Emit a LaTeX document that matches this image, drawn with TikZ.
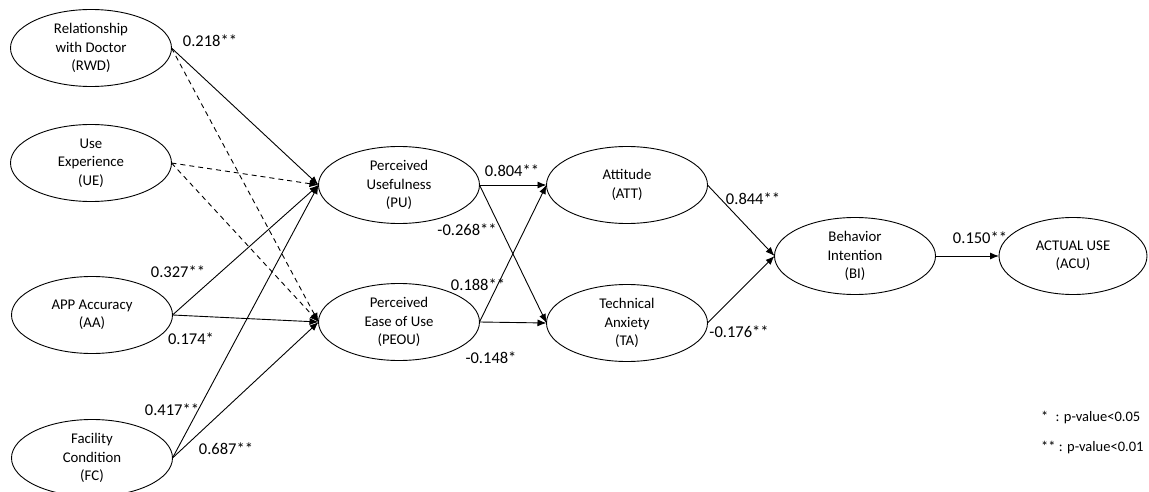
\documentclass[tikz,border=0pt]{standalone}
\usepackage{fontspec}
\setmainfont{Carlito}
\usetikzlibrary{shapes.geometric,arrows.meta}
\tikzset{
  latent/.style={draw, ellipse, line width=0.9pt, minimum width=161pt, minimum height=77pt, inner sep=0pt, outer sep=0pt, align=center, font=\fontsize{14.8}{18.3}\selectfont},
  path/.style={line width=0.9pt, -{Latex[length=9pt,width=7pt]}},
  nspath/.style={path, dashed, dash pattern=on 5pt off 4pt},
  coef/.style={font=\fontsize{16.5}{18}\selectfont, inner sep=0pt},
  legend/.style={font=\fontsize{14.5}{16}\selectfont, inner sep=0pt, anchor=west}
}
\begin{document}
\begin{tikzpicture}[x=1pt,y=-1pt]
\useasboundingbox (0,0) rectangle (1149,492);
\node[latent] (RWD) at (91,48) {Relationship\\with Doctor\\(RWD)};
\node[latent] (UE) at (91,163) {Use\\Experience\\(UE)};
\node[latent] (AA) at (92,315) {APP Accuracy\\(AA)};
\node[latent] (FC) at (92,458) {Facility\\Condition\\(FC)};
\node[latent] (PU) at (399,185) {Perceived\\Usefulness\\(PU)};
\node[latent] (PEOU) at (399,322) {Perceived\\Ease of Use\\(PEOU)};
\node[latent] (ATT) at (627,185) {Attitude\\(ATT)};
\node[latent] (TA) at (627,323) {Technical\\Anxiety\\(TA)};
\node[latent] (BI) at (855,256) {Behavior\\Intention\\(BI)};
\node[latent, minimum width=148pt] (ACU) at (1073,256) {ACTUAL USE\\(ACU)};

\draw[path] (RWD.east) -- (PU.west);
\draw[nspath] (RWD.east) -- (PEOU.west);
\draw[nspath] (UE.east) -- (PU.west);
\draw[nspath] (UE.east) -- (PEOU.west);
\draw[path] (AA.east) -- (PU.west);
\draw[path] (AA.east) -- (PEOU.west);
\draw[path] (FC.east) -- (PU.west);
\draw[path] (FC.east) -- (PEOU.west);
\draw[path] (PU.east) -- (ATT.west);
\draw[path] (PU.east) -- (TA.west);
\draw[path] (PEOU.east) -- (ATT.west);
\draw[path] (PEOU.east) -- (TA.west);
\draw[path] (ATT.east) -- (BI.west);
\draw[path] (TA.east) -- (BI.west);
\draw[path] (BI.east) -- (ACU.west);

\node[coef] (c1) at (210,41) {0.218**};
\node[coef] (c2) at (178,272) {0.327**};
\node[coef] (c3) at (191,339) {0.174*};
\node[coef] (c4) at (172,410) {0.417**};
\node[coef] (c5) at (226,449) {0.687**};
\node[coef] (c6) at (512,171) {0.804**};
\node[coef] (c7) at (467,230) {-0.268**};
\node[coef] (c8) at (478,285) {0.188**};
\node[coef] (c9) at (491,358) {-0.148*};
\node[coef] (c10) at (753,199) {0.844**};
\node[coef] (c11) at (739,332) {-0.176**};
\node[coef] (c12) at (980,238) {0.150**};

\node[legend] (l1) at (1041,418) {*\enspace: p-value<0.05};
\node[legend] (l2) at (1041,448) {** : p-value<0.01};
\end{tikzpicture}
\end{document}
